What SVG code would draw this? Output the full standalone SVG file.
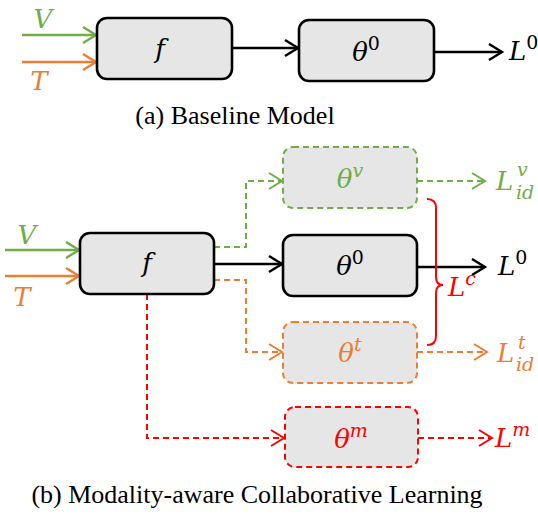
<svg xmlns="http://www.w3.org/2000/svg" width="538" height="516" viewBox="0 0 538 516">
<defs>
<style>
.box{fill:#e6e6e6;stroke:#000;stroke-width:2.6}
.dv{fill:#e6e6e6;stroke:#70ad47;stroke-width:2;stroke-dasharray:6 4}
.dt{fill:#e6e6e6;stroke:#ed7d31;stroke-width:2;stroke-dasharray:6 4}
.dm{fill:#e6e6e6;stroke:#ff0000;stroke-width:2;stroke-dasharray:6 4}
text{font-family:'DejaVu Serif','Liberation Serif',serif}
.m{font-style:italic;font-size:26px}
.sup{font-style:normal;font-size:19px}
.supi{font-style:italic;font-size:19px}
.cap{font-family:'Liberation Serif','Times New Roman',serif;font-size:26px;fill:#000}
.k{stroke:#000;stroke-width:2.4;fill:none}
.g{stroke:#70ad47;stroke-width:2.4;fill:none}
.o{stroke:#ed7d31;stroke-width:2.4;fill:none}
.gd{stroke:#70ad47;stroke-width:2;fill:none;stroke-dasharray:6 4}
.od{stroke:#ed7d31;stroke-width:2;fill:none;stroke-dasharray:6 4}
.rd{stroke:#ff0000;stroke-width:2;fill:none;stroke-dasharray:6 4}
</style>
<marker id="ak" markerUnits="userSpaceOnUse" markerWidth="18" markerHeight="20" refX="14" refY="9" orient="auto"><path d="M1,1 L14,9 L1,17" fill="none" stroke="#000" stroke-width="2.4"/></marker>
<marker id="ag" markerUnits="userSpaceOnUse" markerWidth="18" markerHeight="20" refX="14" refY="9" orient="auto"><path d="M1,1 L14,9 L1,17" fill="none" stroke="#70ad47" stroke-width="2.4"/></marker>
<marker id="ao" markerUnits="userSpaceOnUse" markerWidth="18" markerHeight="20" refX="14" refY="9" orient="auto"><path d="M1,1 L14,9 L1,17" fill="none" stroke="#ed7d31" stroke-width="2.4"/></marker>
<marker id="agd" markerUnits="userSpaceOnUse" markerWidth="18" markerHeight="20" refX="14" refY="9" orient="auto"><path d="M1,1 L14,9 L1,17" fill="none" stroke="#70ad47" stroke-width="2"/></marker>
<marker id="aod" markerUnits="userSpaceOnUse" markerWidth="18" markerHeight="20" refX="14" refY="9" orient="auto"><path d="M1,1 L14,9 L1,17" fill="none" stroke="#ed7d31" stroke-width="2"/></marker>
<marker id="ard" markerUnits="userSpaceOnUse" markerWidth="18" markerHeight="20" refX="14" refY="9" orient="auto"><path d="M1,1 L14,9 L1,17" fill="none" stroke="#ff0000" stroke-width="2"/></marker>
</defs>
<rect width="538" height="516" fill="#fff"/>

<!-- (a) Baseline -->
<g id="connectors-a">
<line class="g" x1="22" y1="35" x2="96" y2="35" marker-end="url(#ag)"/>
<line class="o" x1="22" y1="62" x2="96" y2="62" marker-end="url(#ao)"/>
<line class="k" x1="232" y1="48" x2="298" y2="48" marker-end="url(#ak)"/>
<line class="k" x1="434" y1="52" x2="502" y2="52" marker-end="url(#ak)"/>
</g>
<g id="a-V"><text class="m" x="43" y="28" text-anchor="middle" fill="#70ad47">V</text></g>
<g id="a-T"><text class="m" x="39" y="90" text-anchor="middle" fill="#ed7d31">T</text></g>
<g id="a-f"><rect class="box" x="97" y="18" width="135" height="61" rx="10"/><text class="m" x="160" y="58" text-anchor="middle">f</text></g>
<g id="a-theta0"><rect class="box" x="299" y="20" width="135" height="61" rx="10"/><text class="m" x="366" y="61" text-anchor="middle">θ<tspan class="sup" dy="-11">0</tspan></text></g>
<g id="a-L0"><text class="m" x="509" y="60">L<tspan class="sup" dy="-11">0</tspan></text></g>
<text class="cap" x="235" y="124" text-anchor="middle">(a) Baseline Model</text>

<!-- (b) Modality-aware -->
<g id="connectors-b">
<line class="g" x1="5" y1="250" x2="79" y2="250" marker-end="url(#ag)"/>
<line class="o" x1="5" y1="276" x2="79" y2="276" marker-end="url(#ao)"/>
<polyline class="gd" points="214,247 246,247 246,181 282,181" marker-end="url(#agd)"/>
<line class="gd" x1="417" y1="181" x2="485" y2="181" marker-end="url(#agd)"/>
<line class="k" x1="214" y1="264" x2="282" y2="264" marker-end="url(#ak)"/>
<line class="k" x1="417" y1="267" x2="485" y2="267" marker-end="url(#ak)"/>
<polyline class="od" points="214,280 246,280 246,352 282,352" marker-end="url(#aod)"/>
<line class="od" x1="417" y1="352" x2="487" y2="352" marker-end="url(#aod)"/>
<polyline class="rd" points="147,294 147,438 284,438" marker-end="url(#ard)"/>
<line class="rd" x1="418" y1="438" x2="492" y2="438" marker-end="url(#ard)"/>
<path d="M427,199 Q436,199 436,208 L436,277 Q436,285 443,285 Q436,285 436,293 L436,336 Q436,345 427,345" fill="none" stroke="#ff0000" stroke-width="2"/>
</g>
<g id="b-V"><text class="m" x="27" y="244" text-anchor="middle" fill="#70ad47">V</text></g>
<g id="b-T"><text class="m" x="22" y="306" text-anchor="middle" fill="#ed7d31">T</text></g>
<g id="b-f"><rect class="box" x="80" y="233" width="134" height="61" rx="10"/><text class="m" x="147" y="272" text-anchor="middle">f</text></g>
<g id="b-thetav"><rect class="dv" x="283" y="147" width="134" height="61" rx="10"/><text class="m" x="350" y="188" text-anchor="middle" fill="#70ad47">θ<tspan class="supi" dy="-11">v</tspan></text></g>
<g id="b-theta0"><rect class="box" x="283" y="235" width="134" height="61" rx="10"/><text class="m" x="350" y="275" text-anchor="middle">θ<tspan class="sup" dy="-11">0</tspan></text></g>
<g id="b-thetat"><rect class="dt" x="283" y="322" width="134" height="61" rx="10"/><text class="m" x="350" y="362" text-anchor="middle" fill="#ed7d31">θ<tspan class="supi" dy="-11">t</tspan></text></g>
<g id="b-thetam"><rect class="dm" x="285" y="407" width="133" height="60" rx="10"/><text class="m" x="351" y="448" text-anchor="middle" fill="#ff0000">θ<tspan class="supi" dy="-11">m</tspan></text></g>
<g id="b-Lv" fill="#70ad47"><text class="m" x="496" y="190">L</text><text class="supi" x="517" y="176">v</text><text class="supi" x="516" y="199">id</text></g>
<g id="b-L0"><text class="m" x="498" y="275">L<tspan class="sup" dy="-11">0</tspan></text></g>
<g id="b-Lt" fill="#ed7d31"><text class="m" x="497" y="362">L</text><text class="supi" x="518" y="349">t</text><text class="supi" x="516" y="371">id</text></g>
<g id="b-Lm" fill="#ff0000"><text class="m" x="495" y="447">L<tspan class="supi" dy="-11">m</tspan></text></g>
<g id="b-Lc" fill="#ff0000"><text class="m" x="448" y="296">L<tspan class="supi" dy="-11">c</tspan></text></g>
<text class="cap" x="257" y="503" text-anchor="middle">(b) Modality-aware Collaborative Learning</text>
</svg>
